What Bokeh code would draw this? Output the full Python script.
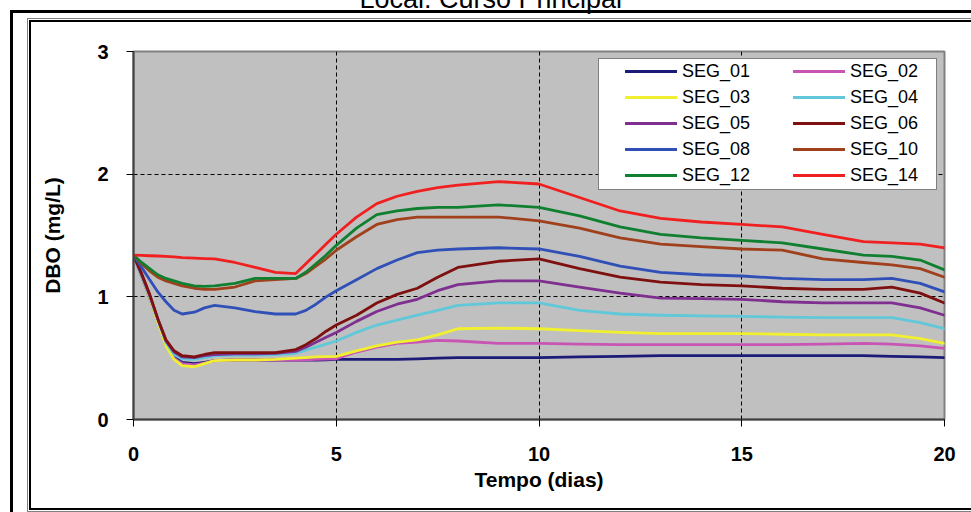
from bokeh.plotting import figure
from bokeh.models import (Range1d, FixedTicker, Legend, LegendItem,
                          InlineStyleSheet, GlobalInlineStyleSheet)
from bokeh.embed import file_html
from bokeh.resources import INLINE

# Tempo (dias) sampled along the simulation
tempo = [0, 0.2, 0.4, 0.6, 0.8, 1.0, 1.2, 1.5, 1.75, 2,
         2.5, 3, 3.5, 4, 4.25, 4.5, 4.75, 5,
         5.5, 6, 6.5, 7, 7.5, 8,
         9, 10, 11, 12, 13, 14, 15, 16, 17, 18,
         18.7, 19.4, 20]

# DBO (mg/L) per segment
seg_01 = [1.34, 1.17, 0.99, 0.80, 0.61, 0.51, 0.465, 0.455, 0.465, 0.48,
          0.485, 0.485, 0.485, 0.485, 0.485, 0.485, 0.487, 0.49,
          0.49, 0.49, 0.49, 0.495, 0.50, 0.505,
          0.505, 0.505, 0.51, 0.515, 0.52, 0.52, 0.52, 0.52, 0.52, 0.52,
          0.515, 0.51, 0.505]
seg_02 = [1.34, 1.17, 0.99, 0.80, 0.61, 0.50, 0.455, 0.445, 0.46, 0.48,
          0.485, 0.485, 0.485, 0.485, 0.487, 0.49, 0.492, 0.495,
          0.55, 0.59, 0.62, 0.63, 0.645, 0.64,
          0.62, 0.62, 0.615, 0.61, 0.61, 0.61, 0.61, 0.61, 0.615, 0.62,
          0.615, 0.60, 0.58]
seg_03 = [1.34, 1.17, 0.99, 0.79, 0.60, 0.49, 0.44, 0.43, 0.455, 0.48,
          0.485, 0.485, 0.49, 0.50, 0.505, 0.51, 0.512, 0.515,
          0.56, 0.60, 0.63, 0.65, 0.69, 0.74,
          0.745, 0.74, 0.725, 0.71, 0.70, 0.70, 0.70, 0.695, 0.69, 0.69,
          0.69, 0.66, 0.62]
seg_04 = [1.34, 1.17, 1.00, 0.81, 0.63, 0.53, 0.495, 0.49, 0.505, 0.52,
          0.525, 0.525, 0.53, 0.54, 0.565, 0.59, 0.615, 0.64,
          0.71, 0.77, 0.81, 0.85, 0.89, 0.93,
          0.95, 0.95, 0.89, 0.86, 0.85, 0.845, 0.84, 0.835, 0.83, 0.83,
          0.83, 0.79, 0.74]
seg_05 = [1.34, 1.18, 1.01, 0.82, 0.64, 0.55, 0.51, 0.505, 0.52, 0.53,
          0.535, 0.535, 0.54, 0.555, 0.59, 0.63, 0.67, 0.71,
          0.80, 0.88, 0.94, 0.98, 1.05, 1.10,
          1.13, 1.13, 1.08, 1.03, 0.99, 0.985, 0.98, 0.96, 0.95, 0.95,
          0.95, 0.91, 0.85]
seg_06 = [1.34, 1.19, 1.02, 0.82, 0.65, 0.56, 0.52, 0.51, 0.53, 0.545,
          0.545, 0.545, 0.545, 0.57, 0.61, 0.66, 0.72, 0.77,
          0.85, 0.95, 1.02, 1.07, 1.16, 1.24,
          1.29, 1.31, 1.23, 1.16, 1.12, 1.10, 1.09, 1.07, 1.06, 1.06,
          1.08, 1.03, 0.95]
seg_08 = [1.34, 1.24, 1.14, 1.04, 0.96, 0.89, 0.86, 0.875, 0.91, 0.93,
          0.91, 0.88, 0.86, 0.86, 0.89, 0.94, 1.00, 1.05,
          1.14, 1.23, 1.30, 1.36, 1.38, 1.39,
          1.40, 1.39, 1.33, 1.25, 1.20, 1.18, 1.17, 1.15, 1.14, 1.14,
          1.15, 1.11, 1.04]
seg_10 = [1.34, 1.27, 1.21, 1.16, 1.13, 1.11, 1.09, 1.07, 1.06, 1.06,
          1.08, 1.13, 1.14, 1.15, 1.19, 1.25, 1.31, 1.38,
          1.49, 1.59, 1.63, 1.65, 1.65, 1.65,
          1.65, 1.62, 1.56, 1.48, 1.43, 1.41, 1.39, 1.38, 1.31, 1.28,
          1.26, 1.23, 1.16]
seg_12 = [1.34, 1.28, 1.23, 1.18, 1.15, 1.13, 1.11, 1.09, 1.085, 1.09,
          1.11, 1.15, 1.15, 1.15, 1.20, 1.27, 1.34, 1.42,
          1.56, 1.67, 1.70, 1.72, 1.73, 1.73,
          1.75, 1.73, 1.66, 1.57, 1.51, 1.48, 1.46, 1.44, 1.39, 1.34,
          1.33, 1.30, 1.22]
seg_14 = [1.34, 1.338, 1.335, 1.333, 1.33, 1.325, 1.32, 1.315, 1.312, 1.31,
          1.28, 1.24, 1.20, 1.19, 1.27, 1.35, 1.43, 1.51,
          1.65, 1.76, 1.82, 1.86, 1.89, 1.91,
          1.94, 1.92, 1.81, 1.70, 1.64, 1.61, 1.59, 1.57, 1.51, 1.45,
          1.44, 1.43, 1.40]

series_names = ["SEG_01", "SEG_02", "SEG_03", "SEG_04", "SEG_05",
                "SEG_06", "SEG_08", "SEG_10", "SEG_12", "SEG_14"]
series_values = [seg_01, seg_02, seg_03, seg_04, seg_05,
                 seg_06, seg_08, seg_10, seg_12, seg_14]
series_colors = ["#1c1c78", "#c855b4", "#f0f030", "#60c8d8", "#7f2f8f",
                 "#7f1010", "#3050b8", "#a0401c", "#108030", "#f02020"]

x_ticks = [0, 5, 10, 15, 20]
y_ticks = [0, 1, 2, 3]

FONT = "Liberation Sans"

# The canvas is taller than the page by SHIFT pixels and is pulled up by the
# same amount, so the title sits partly above the top edge.
SHIFT = 69

p = figure(width=971, height=512 + SHIFT,
           x_range=Range1d(0, 20), y_range=Range1d(0, 3),
           output_backend="svg", toolbar_location=None,
           min_border_left=133, min_border_right=27,
           min_border_top=51 + SHIFT, min_border_bottom=93,
           background_fill_color="#c0c0c0", border_fill_color="white")
p.outline_line_color = "#808080"
p.outline_line_width = 2

p.title.text = "Local: Curso Principal"
p.title.align = "left"
p.title.offset = 226
p.title.vertical_align = "bottom"
p.title.standoff = 75
p.title.text_font = FONT
p.title.text_font_style = "normal"
p.title.text_font_size = "27px"
p.title.text_color = "black"

# double frame drawn around the chart area (left, top and bottom edges;
# the right-hand side runs past the visible canvas)
p.styles = {"margin-top": f"-{SHIFT}px", "overflow": "hidden",
            "position": "relative"}
p.stylesheets = [
    GlobalInlineStyleSheet(css="html, body { margin: 0; overflow: hidden !important; }"),
    InlineStyleSheet(css=f"""
:host::before {{
  content: ""; position: absolute; left: 10px; top: {10 + SHIFT}px;
  right: -40px; bottom: -40px;
  border-left: 3px solid #000; border-top: 3px solid #000;
  pointer-events: none; z-index: 10;
}}
:host::after {{
  content: ""; position: absolute; left: 27px; top: {18 + SHIFT}px;
  right: -40px; bottom: 0;
  border-left: 1px solid #808080; border-top: 1px solid #808080;
  border-bottom: 1px solid #808080;
  background:
    linear-gradient(#000, #000) left 1px top 1px / 2px calc(100% - 2px) no-repeat,
    linear-gradient(#000, #000) left 1px top 1px / 100% 2px no-repeat,
    linear-gradient(#000, #000) left 1px bottom 1px / 100% 2px no-repeat;
  pointer-events: none; z-index: 10;
}}
"""),
]

# axes
for ax, ticks in ((p.xaxis, x_ticks), (p.yaxis, y_ticks)):
    ax.ticker = FixedTicker(ticks=ticks)
    ax.minor_tick_line_color = None
    ax.major_tick_in = 0
    ax.major_tick_out = 7
    ax.major_tick_line_color = "black"
    ax.major_tick_line_width = 1
    ax.axis_line_color = "#404040"
    ax.axis_line_width = 2
    ax.major_label_text_font = FONT
    ax.major_label_text_font_style = "bold"
    ax.major_label_text_font_size = "20px"
    ax.major_label_text_color = "black"
    ax.axis_label_text_font = FONT
    ax.axis_label_text_font_style = "bold"
    ax.axis_label_text_font_size = "21px"
    ax.axis_label_text_color = "black"

p.xaxis.axis_label = "Tempo (dias)"
p.yaxis.axis_label = "DBO (mg/L)"
p.xaxis.major_label_standoff = 20
p.xaxis.axis_label_standoff = 4
p.yaxis.major_label_standoff = 18
p.yaxis.axis_label_standoff = 30

# dashed grid at the inner ticks
p.xgrid.ticker = FixedTicker(ticks=[5, 10, 15])
p.ygrid.ticker = FixedTicker(ticks=[1, 2])
for g in (p.xgrid, p.ygrid):
    g.grid_line_color = "black"
    g.grid_line_width = 1
    g.grid_line_dash = "4 3"

renderers = {}
for name, vals, col in zip(series_names, series_values, series_colors):
    renderers[name] = p.line(tempo, vals, line_color=col, line_width=2.8,
                             line_join="round", line_cap="round")

# legend: white box behind two columns of entries
blank = p.line([], [], line_alpha=0)
box = Legend(items=[LegendItem(label=" ", renderers=[blank])],
             location="top_right", margin=7, padding=5,
             glyph_width=327, glyph_height=120, label_width=0,
             label_standoff=0, label_text_font_size="1px",
             border_line_color="black", border_line_width=1,
             background_fill_color="white", background_fill_alpha=1.0)
p.add_layout(box)

left_col = ["SEG_01", "SEG_03", "SEG_05", "SEG_08", "SEG_12"]
right_col = ["SEG_02", "SEG_04", "SEG_06", "SEG_10", "SEG_14"]
for names, lw in ((left_col, 255), (right_col, 87)):
    leg = Legend(items=[LegendItem(label=n, renderers=[renderers[n]]) for n in names],
                 location="top_right", margin=7, padding=5,
                 glyph_width=52, glyph_height=26, label_width=lw,
                 label_height=26, label_standoff=5, spacing=0,
                 label_text_font=FONT, label_text_font_size="18px",
                 label_text_color="black",
                 border_line_color=None, background_fill_alpha=0)
    p.add_layout(leg)

open("out.html", "w").write(file_html(p, INLINE))
